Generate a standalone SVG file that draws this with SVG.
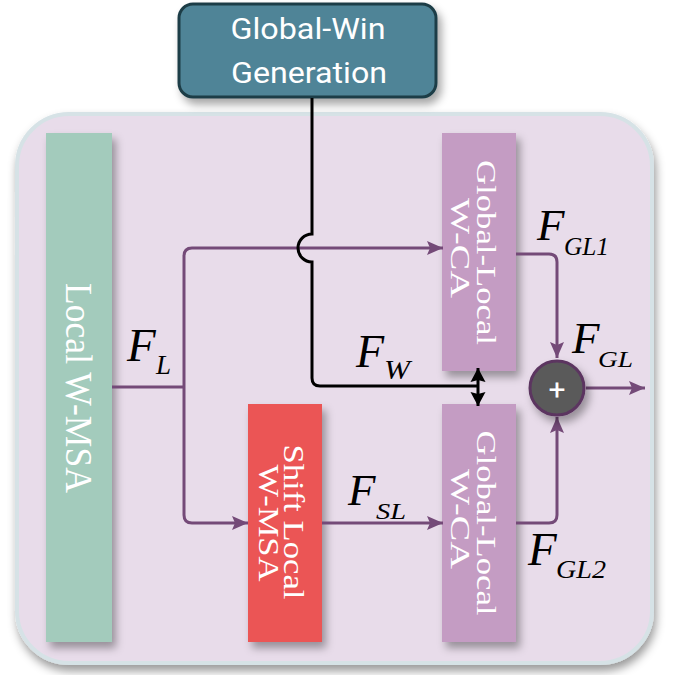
<svg xmlns="http://www.w3.org/2000/svg" width="673" height="675" viewBox="0 0 673 675">
<style>
.bar{stroke:none}
.vt{font-family:"Liberation Serif","Times New Roman",serif;fill:#ffffff;text-anchor:middle}
.m{font-family:"Liberation Serif","Times New Roman",serif;font-style:italic;fill:#000}
.pc{fill:none;stroke:#744a78;stroke-width:3}
.bc{fill:none;stroke:#000;stroke-width:3}
</style>
<defs>
<filter id="sh" x="-30%" y="-30%" width="160%" height="160%">
<feDropShadow dx="4" dy="6" stdDeviation="4" flood-color="#000" flood-opacity="0.35"/>
</filter>
<filter id="sh2" x="-10%" y="-10%" width="120%" height="120%">
<feDropShadow dx="2" dy="6" stdDeviation="5" flood-color="#000" flood-opacity="0.4"/>
</filter>
<marker id="ap" markerUnits="userSpaceOnUse" markerWidth="18" markerHeight="16" refX="16" refY="8" orient="auto">
<path d="M0,1 L16,8 L0,15 L3,8 Z" fill="#744a78"/>
</marker>
<marker id="ab" markerUnits="userSpaceOnUse" markerWidth="16" markerHeight="18" refX="14" refY="9" orient="auto-start-reverse">
<path d="M0,1.5 L14,9 L0,16.5 L2,9 Z" fill="#000"/>
</marker>
</defs>

<g id="container">
<rect x="17" y="114" width="635" height="549" rx="52" ry="52" fill="#e8dcea" stroke="#d6e2e6" stroke-width="4" filter="url(#sh2)"/>
</g>

<g id="global-win">
<rect x="179" y="4" width="257" height="93" rx="14" ry="14" fill="#4f8497" stroke="#1f3e46" stroke-width="3" filter="url(#sh)"/>
<text x="308" y="39" font-family="Roboto, 'Liberation Sans', sans-serif" font-size="29" fill="#fff" text-anchor="middle" textLength="155" lengthAdjust="spacingAndGlyphs">Global-Win</text>
<text x="309" y="83" font-family="Roboto, 'Liberation Sans', sans-serif" font-size="29" fill="#fff" text-anchor="middle" textLength="156" lengthAdjust="spacingAndGlyphs">Generation</text>
</g>

<g id="local-wmsa">
<rect class="bar" x="46" y="133" width="66" height="509" fill="#a3cbbc" filter="url(#sh)"/>
<text class="vt" transform="translate(66,388) rotate(90)" font-size="37" textLength="210" lengthAdjust="spacingAndGlyphs">Local W-MSA</text>
</g>

<g id="gl-top">
<rect class="bar" x="442" y="133" width="74" height="238" fill="#c49cc3" filter="url(#sh)"/>
<text class="vt" transform="translate(477,252.5) rotate(90)" font-size="28" textLength="185" lengthAdjust="spacingAndGlyphs">Global-Local</text>
<text class="vt" transform="translate(451,248) rotate(90)" font-size="28" textLength="100" lengthAdjust="spacingAndGlyphs">W-CA</text>
</g>

<g id="gl-bottom">
<rect class="bar" x="442" y="404" width="74" height="238" fill="#c49cc3" filter="url(#sh)"/>
<text class="vt" transform="translate(477,523) rotate(90)" font-size="28" textLength="185" lengthAdjust="spacingAndGlyphs">Global-Local</text>
<text class="vt" transform="translate(451,519) rotate(90)" font-size="28" textLength="100" lengthAdjust="spacingAndGlyphs">W-CA</text>
</g>

<g id="shift-local">
<rect class="bar" x="248" y="404" width="74" height="238" fill="#eb5455" filter="url(#sh)"/>
<text class="vt" transform="translate(284,522) rotate(90)" font-size="29" textLength="155" lengthAdjust="spacingAndGlyphs">Shift Local</text>
<text class="vt" transform="translate(259,523) rotate(90)" font-size="29" textLength="117" lengthAdjust="spacingAndGlyphs">W-MSA</text>
</g>

<g id="connectors">
<path class="pc" d="M112,387 H184"/>
<path class="pc" d="M184,387 V256 Q184,248 192,248 H443" marker-end="url(#ap)"/>
<path class="pc" d="M184,387 V515 Q184,523 192,523 H248" marker-end="url(#ap)"/>
<path class="pc" d="M322,523 H443" marker-end="url(#ap)"/>
<path class="pc" d="M516,254 H549 Q557,254 557,262 V358" marker-end="url(#ap)"/>
<path class="pc" d="M516,523 H549 Q557,523 557,515 V417" marker-end="url(#ap)"/>
<path class="pc" d="M586,388 H645" marker-end="url(#ap)"/>
<path class="bc" d="M312,98 V234 A14,14 0 0 0 312,262 V378 Q312,386 320,386 H478"/>
<path class="bc" d="M478,368 V406" marker-start="url(#ab)" marker-end="url(#ab)"/>
</g>

<g id="plus">
<circle cx="557" cy="388" r="27" fill="#5a5a5a" stroke="#5b3560" stroke-width="3" filter="url(#sh)"/>
<text x="557" y="389" font-family="Roboto, 'Liberation Sans', sans-serif" font-size="30" fill="#fff" text-anchor="middle" dominant-baseline="central">+</text>
</g>

<g id="labels">
<text class="m" x="127" y="361" font-size="47">F</text>
<text class="m" x="156" y="374" font-size="27">L</text>
<text class="m" x="356" y="367" font-size="46">F</text>
<text class="m" x="384" y="379" font-size="27" textLength="26" lengthAdjust="spacingAndGlyphs">W</text>
<text class="m" x="348" y="505" font-size="45">F</text>
<text class="m" x="376" y="519" font-size="23" textLength="30" lengthAdjust="spacingAndGlyphs">SL</text>
<text class="m" x="537" y="240" font-size="45">F</text>
<text class="m" x="564" y="255" font-size="25" textLength="45" lengthAdjust="spacingAndGlyphs">GL1</text>
<text class="m" x="572" y="353" font-size="45">F</text>
<text class="m" x="598" y="367" font-size="23" textLength="35" lengthAdjust="spacingAndGlyphs">GL</text>
<text class="m" x="528" y="565" font-size="47">F</text>
<text class="m" x="556" y="578" font-size="25" textLength="50" lengthAdjust="spacingAndGlyphs">GL2</text>
</g>
</svg>
